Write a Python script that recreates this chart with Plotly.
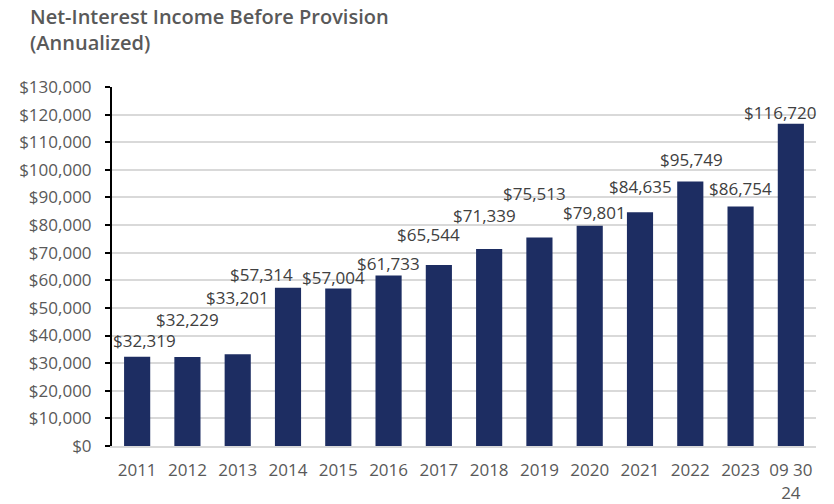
import plotly.graph_objects as go

# Net-interest income before provision, annualized (USD thousands)
periods = ["2011", "2012", "2013", "2014", "2015", "2016", "2017",
           "2018", "2019", "2020", "2021", "2022", "2023", "09 30<br>24"]
income = [32319, 32229, 33201, 57314, 57004, 61733, 65544,
          71339, 75513, 79801, 84635, 95749, 86754, 116720]
y_ticks = list(range(0, 130001, 10000))
y_tick_text = [f"${v:,}" for v in y_ticks]

# pixel nudges of each value label relative to the top-centre of its bar
label_dx = [7, 0, 0, -27, -5, 0, -10, -5, -5, 5, 0, 1, 0, -11]
label_dy = [16, 38, 57, 13, 11, 12, 31, 33, 44, 13, 26, 22, 18, 11]

BAR = "#1d2d62"
GRID = "#d9d9d9"
TXT = "#595959"

pos = list(range(len(periods)))

fig = go.Figure(
    go.Bar(x=pos, y=income, marker=dict(color=BAR, line=dict(width=0)),
           width=0.52, hoverinfo="skip")
)

for i, v, dx, dy in zip(pos, income, label_dx, label_dy):
    fig.add_annotation(x=i, y=v, text=f"${v:,}", showarrow=False,
                       xshift=dx, yshift=dy, yanchor="middle",
                       font=dict(family="Open Sans", size=17, color="#404040"))

# two-line heading in the top-left corner
fig.add_annotation(xref="paper", yref="paper", x=(28 - 112) / 704,
                   y=1 + (87 - 1) / 359, xanchor="left", yanchor="top",
                   align="left", showarrow=False,
                   text="Net-Interest Income Before Provision<br>(Annualized)",
                   font=dict(family="Open Sans", size=20, color=TXT, weight=600))

fig.update_layout(
    width=834, height=504,
    margin=dict(l=112, r=18, t=87, b=58, autoexpand=False),
    paper_bgcolor="white", plot_bgcolor="white",
    showlegend=False,
    xaxis=dict(range=[-0.5, len(periods) - 0.5], tickvals=pos, ticktext=periods,
               showline=True, linecolor=GRID, linewidth=2, automargin=False,
               showgrid=False, zeroline=False, ticks="", ticklabelstandoff=8,
               tickfont=dict(family="Open Sans", size=17, color=TXT)),
    yaxis=dict(range=[0, 130000], tickvals=y_ticks, ticktext=y_tick_text,
               showgrid=True, gridcolor=GRID, gridwidth=2, automargin=False,
               showline=True, linecolor="black", linewidth=2,
               ticks="outside", ticklen=5, tickwidth=2, tickcolor="black",
               ticklabelstandoff=10, zeroline=False,
               tickfont=dict(family="Open Sans", size=17, color=TXT)),
)

fig.write_html("out.html")
